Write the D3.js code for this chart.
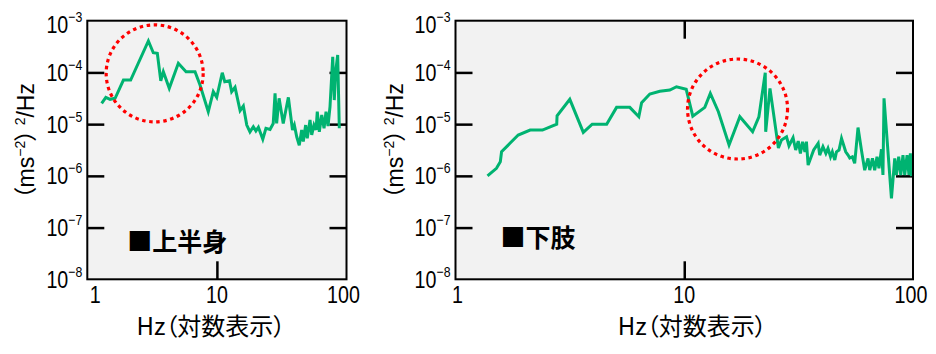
<!DOCTYPE html>
<html><head><meta charset="utf-8">
<script src="https://cdn.jsdelivr.net/npm/d3@7"></script>
<style>body{margin:0;background:#fff} svg{display:block}</style>
</head><body>
<svg id="c" width="936" height="354"></svg>
<script>
// ---- data ----
const upperFreq = [1.29,1.39,1.50,1.64,1.90,2.16,2.96,3.23,3.47,3.69,3.86,4.29,5.04,5.78,6.78,7.41,8.58,9.38,9.97,11.0,11.5,12.5,13.0,13.8,15.1,16.0,17.0,18.0,19.1,20.0,20.9,22.6,23.9,25.7,27.2,28.1,28.9,30.2,32.5,35.6,38.3,39.6,41.3,43.2,45.1,46.4,48.4,49.8,52.3,53.9,56.1,58.2,59.5,61.7,64.4,67.1,69.5,72.0,74.6,78.3,80.5,82.5,85.5,88.0];
const upperPsd = [2.52e-5,3.30e-5,3.02e-5,3.16e-5,7.13e-5,7.13e-5,4.05e-4,2.40e-4,2.34e-4,6.90e-5,1.03e-4,4.92e-5,1.50e-4,1.03e-4,1.03e-4,5.70e-5,1.74e-5,4.24e-5,3.30e-5,9.86e-5,6.61e-5,6.90e-5,4.24e-5,5.15e-5,1.82e-5,2.24e-5,9.6e-6,7.1e-6,8.9e-6,7.4e-6,8.7e-6,5.1e-6,8.3e-6,7.9e-6,1.03e-5,3.94e-5,1.03e-5,3.16e-5,1.03e-5,3.30e-5,7.7e-6,9.6e-6,5.7e-6,3.9e-6,7.7e-6,4.6e-6,9.6e-6,5.3e-6,1.20e-5,6.2e-6,9.6e-6,7.7e-6,1.74e-5,7.1e-6,1.50e-5,8.3e-6,1.74e-5,9.2e-6,2.17e-5,2.01e-4,2.92e-5,1.03e-4,2.17e-4,8.3e-6];
const lowerFreq = [1.38,1.51,1.57,1.59,1.73,1.88,2.12,2.40,2.77,2.78,3.16,3.62,3.96,4.58,5.06,5.78,6.33,6.51,7.07,7.82,8.65,9.25,10.2,10.9,12.3,13.0,14.1,15.7,17.5,19.9,21.2,22.6,22.7,23.7,25.8,26.6,28.0,28.7,29.9,30.7,31.5,32.2,32.9,33.7,34.2,34.8,36.8,38.5,39.1,40.4,41.6,42.5,43.6,44.4,45.5,46.3,47.5,48.7,50.8,52.0,52.9,54.3,55.6,57.5,59.5,61.5,63.6,64.7,66.5,68.0,69.6,71.0,72.8,73.9,74.7,80.5,83.2,84.6,86.6,88.4,90.4,92.0,94.2,96.0,97.4,98.4];
const lowerPsd = [1.00e-6,1.40e-6,1.87e-6,2.92e-6,4.26e-6,6.15e-6,7.69e-6,7.69e-6,1.00e-5,1.45e-5,3.02e-5,6.93e-6,1.00e-5,1.00e-5,2.11e-5,2.11e-5,1.39e-5,2.59e-5,3.82e-5,4.31e-5,4.57e-5,5.28e-5,4.71e-5,1.43e-5,2.11e-5,3.94e-5,1.74e-5,3.95e-6,1.39e-5,7.13e-6,1.39e-5,9.86e-5,7.13e-6,4.92e-5,3.45e-6,4.92e-6,5.70e-6,3.82e-6,5.46e-6,3.16e-6,4.71e-6,2.72e-6,4.57e-6,2.92e-6,4.57e-6,1.62e-6,3.16e-6,4.26e-6,2.52e-6,3.66e-6,2.72e-6,3.40e-6,2.34e-6,2.92e-6,2.02e-6,2.92e-6,3.16e-6,5.31e-6,2.92e-6,2.52e-6,2.21e-6,2.34e-6,1.75e-6,8.59e-6,3.16e-6,1.29e-6,2.18e-6,1.29e-6,2.18e-6,1.29e-6,2.34e-6,1.40e-6,3.26e-6,1.04e-6,3.16e-5,3.67e-7,2.18e-6,1.04e-6,2.34e-6,1.04e-6,2.52e-6,1.04e-6,2.52e-6,1.04e-6,2.72e-6,9.9e-7];
const yTickValues = [1e-3,1e-4,1e-5,1e-6,1e-7,1e-8];
const yTickExponents = ["−3","−4","−5","−6","−7","−8"];
const xTickValues = [1,10,100];
const xTickLabels = ["1","10","100"];
const panelLabels = ["上半身","下肢"];
const xTitle = "Hz（対数表示）";
const highlightFreq = [3.31, 17.1];
const highlightPsd = [9.6e-5, 1.96e-5];

// ---- layout / style ----
const GREEN = "#00b371";
const NUM_FONT = "'Liberation Sans','Arial',sans-serif";
const CJK_FONT = "'Noto Sans CJK JP','Noto Sans',sans-serif";
const NARROW = 0.82;
const Y0 = 20.7, Y1 = 279.3;
const panels = [
  {freq: upperFreq, psd: upperPsd, label: panelLabels[0], hf: highlightFreq[0], hp: highlightPsd[0],
   x0: 87.3, x1: 346.5, r: 48.5, topTick: false, labelDx: 40, labelBase: 251, xTitleDx: -6, xLabelDx: [8,0,-3]},
  {freq: lowerFreq, psd: lowerPsd, label: panelLabels[1], hf: highlightFreq[1], hp: highlightPsd[1],
   x0: 455.5, x1: 913, r: 50, topTick: true, labelDx: 45, labelBase: 246.5, xTitleDx: 8, xLabelDx: [2,0,-2]}
];

const svg = d3.select("#c");

panels.forEach(p => {
  const x = d3.scaleLog().domain([1,100]).range([p.x0, p.x1]);
  const y = d3.scaleLog().domain([1e-8,1e-3]).range([Y1, Y0]);
  const g = svg.append("g");

  g.append("rect").attr("x", p.x0).attr("y", Y0).attr("width", p.x1 - p.x0).attr("height", Y1 - Y0)
    .attr("fill", "#f2f2f2");

  // inner ticks via d3 axes
  const inner = yTickValues.slice(1, -1);
  const styleAxis = sel => { sel.select(".domain").remove(); sel.selectAll("text").remove();
    sel.selectAll("line").attr("stroke", "#000").attr("stroke-width", 2.5); };
  g.append("g").attr("transform", `translate(${p.x0},0)`)
    .call(d3.axisLeft(y).tickValues(inner).tickSize(-17)).call(styleAxis);
  g.append("g").attr("transform", `translate(${p.x1},0)`)
    .call(d3.axisRight(y).tickValues(inner).tickSize(-17)).call(styleAxis);
  g.append("g").attr("transform", `translate(0,${Y1})`)
    .call(d3.axisBottom(x).tickValues([10]).tickSize(-18)).call(styleAxis);
  if (p.topTick) g.append("g").attr("transform", `translate(0,${Y0})`)
    .call(d3.axisTop(x).tickValues([10]).tickSize(-18)).call(styleAxis);

  // data line
  const line = d3.line().x((d,i) => x(p.freq[i])).y((d,i) => y(p.psd[i]));
  g.append("path").datum(p.freq).attr("d", line).attr("fill", "none")
    .attr("stroke", GREEN).attr("stroke-width", 3).attr("stroke-linejoin", "miter");

  // highlight circle
  g.append("circle").attr("cx", x(p.hf)).attr("cy", y(p.hp)).attr("r", p.r)
    .attr("fill", "none").attr("stroke", "#ff0000").attr("stroke-width", 3.2)
    .attr("stroke-dasharray", "3.5 3.6");

  // frame
  g.append("rect").attr("x", p.x0).attr("y", Y0).attr("width", p.x1 - p.x0).attr("height", Y1 - Y0)
    .attr("fill", "none").attr("stroke", "#000").attr("stroke-width", 2);

  // y tick labels (condensed)
  yTickValues.forEach((v, i) => {
    const t = g.append("text")
      .attr("transform", `translate(${p.x0 - 5},${y(v) + 8.6 + (i === 0 ? 4 : 0)}) scale(${NARROW},1)`)
      .attr("text-anchor", "end").attr("font-family", NUM_FONT).attr("font-size", 24).attr("fill", "#000");
    t.append("tspan").text("10");
    t.append("tspan").attr("dy", -11).attr("font-size", 15).text(yTickExponents[i]);
  });

  // x tick labels (condensed)
  xTickValues.forEach((v, i) => {
    g.append("text").attr("transform", `translate(${x(v) + p.xLabelDx[i]},302.5) scale(${NARROW * 24 / 23.5},1)`)
      .attr("text-anchor", "middle")
      .attr("font-family", NUM_FONT).attr("font-size", 23.5).attr("fill", "#000").text(xTickLabels[i]);
  });

  // x title
  g.append("text").attr("x", (p.x0 + p.x1) / 2 + p.xTitleDx).attr("y", 334.5).attr("text-anchor", "middle")
    .attr("font-family", CJK_FONT).attr("font-size", 24).style("font-feature-settings", "'palt'")
    .attr("fill", "#000").text(xTitle);

  // y title
  const yt = g.append("text").attr("transform", `translate(${p.x0 - 53},141) rotate(-90)`)
    .attr("text-anchor", "middle").attr("font-family", "'Liberation Sans','Noto Sans CJK JP',sans-serif")
    .style("font-feature-settings", "'palt'")
    .attr("font-size", 23).attr("fill", "#000");
  yt.append("tspan").text("（ms");
  yt.append("tspan").attr("dy", -9).attr("font-size", 14).text("−2");
  yt.append("tspan").attr("dy", 9).text("）");
  yt.append("tspan").attr("dy", -9).attr("dx", 4).attr("font-size", 14).text("2");
  yt.append("tspan").attr("dy", 9).text("/Hz");

  // panel label
  g.append("text").attr("x", p.x0 + p.labelDx).attr("y", p.labelBase)
    .attr("font-family", CJK_FONT).attr("font-weight", "bold").attr("font-size", 25).attr("fill", "#000")
    .text("■" + p.label);
});
</script>
</body></html>
